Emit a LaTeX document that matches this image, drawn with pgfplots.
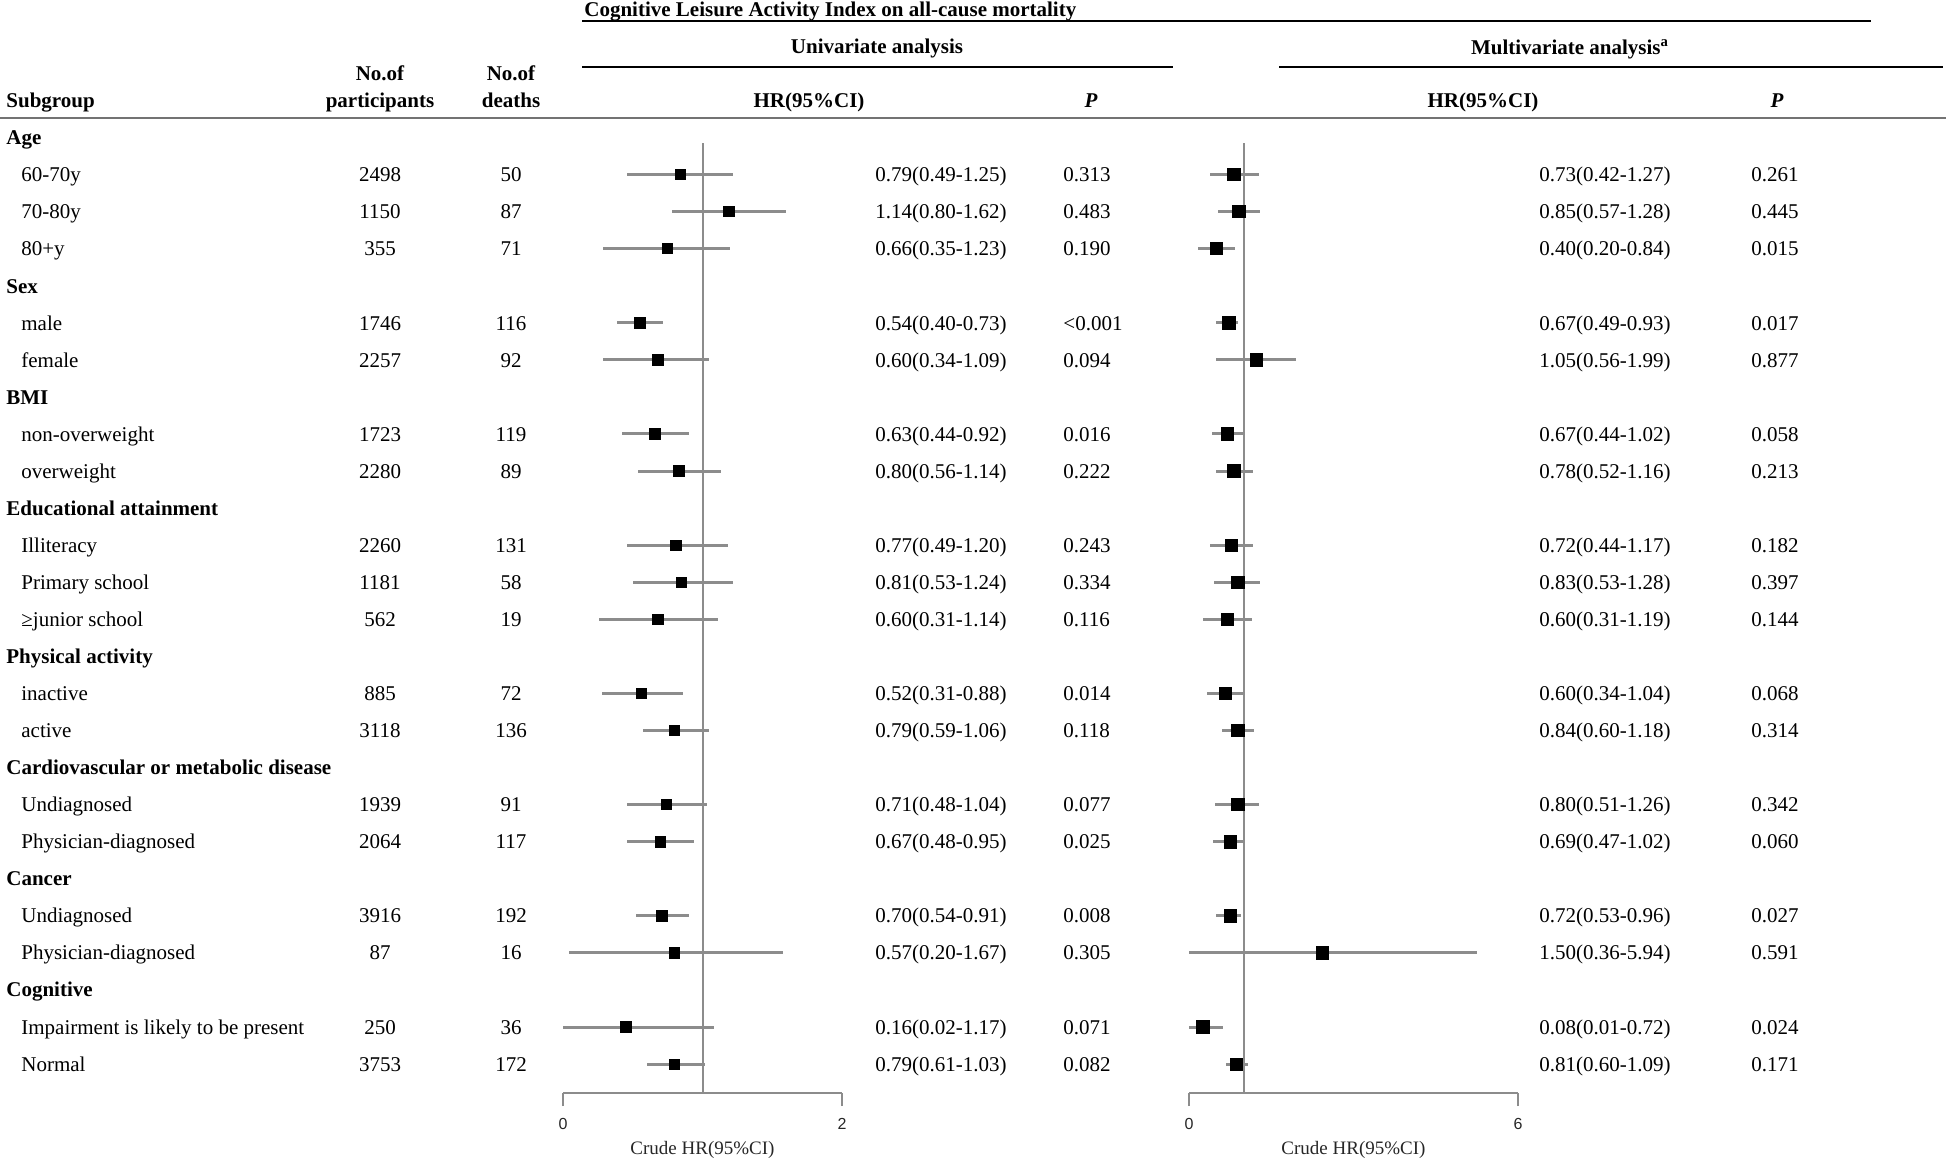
\documentclass[border=0pt]{standalone}
\usepackage{fontspec}
\setmainfont{Liberation Serif}
\newfontfamily\sansf{Liberation Sans}
\usepackage{pgfplots}
\usepackage{pgfplotstable}
\pgfplotsset{compat=1.18}

% estimates and 95% CI as drawn (row = line of the table)
\pgfplotstableread{
row hr lo hi
1 0.84 0.46 1.22
2 1.19 0.78 1.60
3 0.75 0.29 1.20
5 0.55 0.39 0.72
6 0.68 0.29 1.05
8 0.66 0.42 0.90
9 0.83 0.54 1.13
11 0.81 0.46 1.18
12 0.85 0.50 1.22
13 0.68 0.26 1.11
15 0.56 0.28 0.86
16 0.80 0.57 1.05
18 0.74 0.46 1.03
19 0.70 0.46 0.94
21 0.71 0.52 0.90
22 0.80 0.04 1.58
24 0.45 0.00 1.08
25 0.80 0.60 1.02
}\uni

\pgfplotstableread{
row hr lo hi
1 0.82 0.39 1.27
2 0.91 0.52 1.30
3 0.50 0.16 0.84
5 0.73 0.50 0.90
6 1.23 0.50 1.95
8 0.70 0.41 1.00
9 0.82 0.50 1.16
11 0.77 0.39 1.16
12 0.89 0.45 1.30
13 0.70 0.25 1.14
15 0.66 0.32 1.00
16 0.89 0.61 1.18
18 0.89 0.48 1.27
19 0.75 0.43 1.02
21 0.75 0.50 0.95
22 2.43 0.00 5.25
24 0.25 0.00 0.62
25 0.86 0.68 1.07
}\multi

\newcommand{\grp}[2]{\node[anchor=base west,font=\bfseries] at (6,{144.8+37.05*#1}) {#2};}
\newcommand{\sub}[8]{%
  \node[anchor=base west] at (21,{144.8+37.05*#1}) {#2};
  \node[anchor=base] at (380,{144.8+37.05*#1}) {#3};
  \node[anchor=base] at (511,{144.8+37.05*#1}) {#4};
  \node[anchor=base west] at (875,{144.8+37.05*#1}) {#5};
  \node[anchor=base west] at (1063,{144.8+37.05*#1}) {#6};
  \node[anchor=base west] at (1539,{144.8+37.05*#1}) {#7};
  \node[anchor=base west] at (1751,{144.8+37.05*#1}) {#8};}

\pgfplotsset{
  forest/.style={
    anchor=south west, scale only axis, height=475pt,
    ymin=-25.78, ymax=-0.15, clip=false,
    axis x line*=bottom, axis y line=none,
    ytick=\empty, tick align=outside, major tick length=6.5pt,
    axis line style={black!45, line width=1pt},
    tick style={black!45, line width=1pt},
    xticklabel style={font=\sansf\fontsize{8}{9}\selectfont, black!85, yshift=-2.5pt},
    /pgf/number format/assume math mode=true,
    xlabel={Crude HR(95\%CI)},
    xlabel style={font=\fontsize{9.5}{10}\selectfont, black!85, yshift=1.5pt},
  },
  ci/.style={only marks, mark=square*, mark options={fill=black, draw=black},
    error bars/.cd, x dir=both, x explicit, error mark=none,
    error bar style={black!45, line width=1.5pt}},
}

\begin{document}
\fontsize{10.5}{12.6}\selectfont
\begin{tikzpicture}
\begin{scope}[x=0.5pt, y=-0.5pt, every node/.style={inner sep=0pt}]
  % header
  \node[anchor=base west, font=\bfseries] at (584,16) {Cognitive Leisure Activity Index on all-cause mortality};
  \draw[line width=1.3pt] (582,21) -- (1871,21);
  \node[anchor=base, font=\bfseries] at (877,53) {Univariate analysis};
  \node[anchor=base, font=\bfseries] at (1570,54) {Multivariate analysis\textsuperscript{a}};
  \draw[line width=0.9pt] (582,67) -- (1173,67);
  \draw[line width=0.9pt] (1279,67) -- (1943,67);
  \node[anchor=base, font=\bfseries] at (380,80) {No.of};
  \node[anchor=base, font=\bfseries] at (380,107) {participants};
  \node[anchor=base, font=\bfseries] at (511,80) {No.of};
  \node[anchor=base, font=\bfseries] at (511,107) {deaths};
  \node[anchor=base west, font=\bfseries] at (6,107) {Subgroup};
  \node[anchor=base, font=\bfseries] at (809,107) {HR(95\%CI)};
  \node[anchor=base, font=\bfseries\itshape] at (1091,107) {P};
  \node[anchor=base, font=\bfseries] at (1483,107) {HR(95\%CI)};
  \node[anchor=base, font=\bfseries\itshape] at (1777,107) {P};
  \draw[black!55, line width=1.3pt] (0,118) -- (1946,118);
  % rows
  \grp{0}{Age}
  \sub{1}{60-70y}{2498}{50}{0.79(0.49-1.25)}{0.313}{0.73(0.42-1.27)}{0.261}
  \sub{2}{70-80y}{1150}{87}{1.14(0.80-1.62)}{0.483}{0.85(0.57-1.28)}{0.445}
  \sub{3}{80+y}{355}{71}{0.66(0.35-1.23)}{0.190}{0.40(0.20-0.84)}{0.015}
  \grp{4}{Sex}
  \sub{5}{male}{1746}{116}{0.54(0.40-0.73)}{<0.001}{0.67(0.49-0.93)}{0.017}
  \sub{6}{female}{2257}{92}{0.60(0.34-1.09)}{0.094}{1.05(0.56-1.99)}{0.877}
  \grp{7}{BMI}
  \sub{8}{non-overweight}{1723}{119}{0.63(0.44-0.92)}{0.016}{0.67(0.44-1.02)}{0.058}
  \sub{9}{overweight}{2280}{89}{0.80(0.56-1.14)}{0.222}{0.78(0.52-1.16)}{0.213}
  \grp{10}{Educational attainment}
  \sub{11}{Illiteracy}{2260}{131}{0.77(0.49-1.20)}{0.243}{0.72(0.44-1.17)}{0.182}
  \sub{12}{Primary school}{1181}{58}{0.81(0.53-1.24)}{0.334}{0.83(0.53-1.28)}{0.397}
  \sub{13}{≥junior school}{562}{19}{0.60(0.31-1.14)}{0.116}{0.60(0.31-1.19)}{0.144}
  \grp{14}{Physical activity}
  \sub{15}{inactive}{885}{72}{0.52(0.31-0.88)}{0.014}{0.60(0.34-1.04)}{0.068}
  \sub{16}{active}{3118}{136}{0.79(0.59-1.06)}{0.118}{0.84(0.60-1.18)}{0.314}
  \grp{17}{Cardiovascular or metabolic disease}
  \sub{18}{Undiagnosed}{1939}{91}{0.71(0.48-1.04)}{0.077}{0.80(0.51-1.26)}{0.342}
  \sub{19}{Physician-diagnosed}{2064}{117}{0.67(0.48-0.95)}{0.025}{0.69(0.47-1.02)}{0.060}
  \grp{20}{Cancer}
  \sub{21}{Undiagnosed}{3916}{192}{0.70(0.54-0.91)}{0.008}{0.72(0.53-0.96)}{0.027}
  \sub{22}{Physician-diagnosed}{87}{16}{0.57(0.20-1.67)}{0.305}{1.50(0.36-5.94)}{0.591}
  \grp{23}{Cognitive}
  \sub{24}{Impairment is likely to be present}{250}{36}{0.16(0.02-1.17)}{0.071}{0.08(0.01-0.72)}{0.024}
  \sub{25}{Normal}{3753}{172}{0.79(0.61-1.03)}{0.082}{0.81(0.60-1.09)}{0.171}
\end{scope}

\begin{axis}[forest, at={(281.5pt,-546.5pt)}, width=139.5pt, xmin=0, xmax=2, xtick={0,2}]
  \addplot[black!45, line width=1pt] coordinates {(1,-25.78) (1,-0.15)};
  \addplot[mark size=2.6pt, ci] table[x=hr, y expr=-\thisrow{row},
    x error plus expr=\thisrow{hi}-\thisrow{hr},
    x error minus expr=\thisrow{hr}-\thisrow{lo}] {\uni};
\end{axis}

\begin{axis}[forest, at={(594.5pt,-546.5pt)}, width=164.5pt, xmin=0, xmax=6, xtick={0,6}]
  \addplot[black!45, line width=1pt] coordinates {(1,-25.78) (1,-0.15)};
  \addplot[mark size=3.1pt, ci] table[x=hr, y expr=-\thisrow{row},
    x error plus expr=\thisrow{hi}-\thisrow{hr},
    x error minus expr=\thisrow{hr}-\thisrow{lo}] {\multi};
\end{axis}
\pgfresetboundingbox
\path[use as bounding box] (0pt,0pt) rectangle (973pt,-582pt);
\end{tikzpicture}
\end{document}
